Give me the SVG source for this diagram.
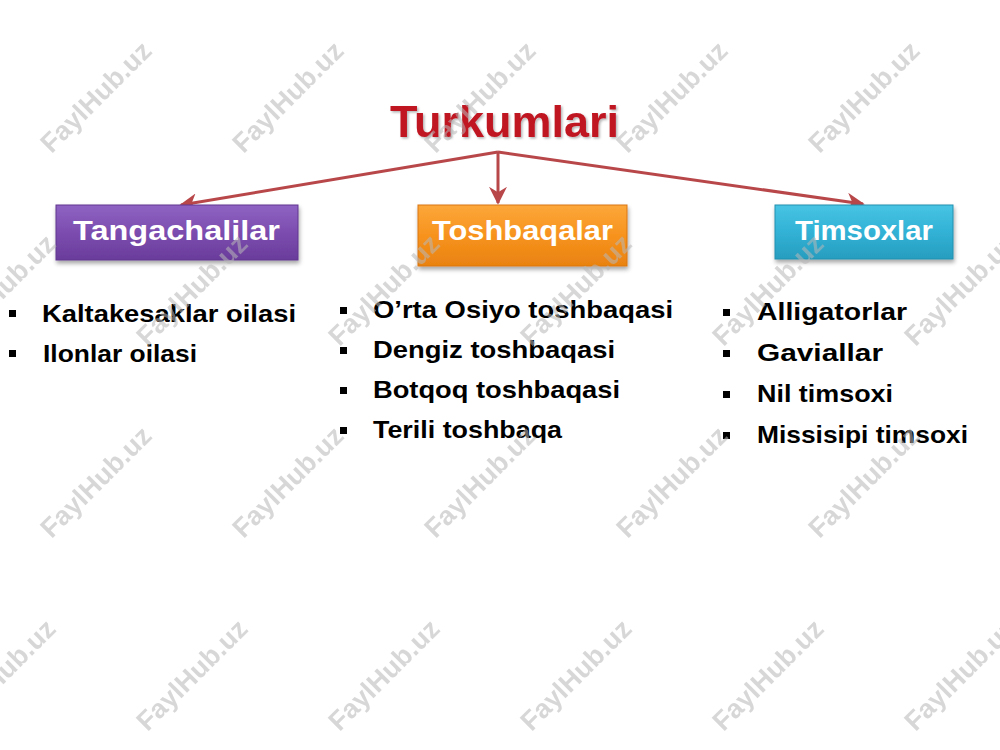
<svg xmlns="http://www.w3.org/2000/svg" width="1000" height="750" viewBox="0 0 1000 750">
  <defs>
    <linearGradient id="gPurple" x1="0" y1="0" x2="0" y2="1">
      <stop offset="0" stop-color="#8E63C2"/>
      <stop offset="0.5" stop-color="#7C4DAF"/>
      <stop offset="1" stop-color="#6A3C9B"/>
    </linearGradient>
    <linearGradient id="gOrange" x1="0" y1="0" x2="0" y2="1">
      <stop offset="0" stop-color="#FCA73A"/>
      <stop offset="0.5" stop-color="#F7931E"/>
      <stop offset="1" stop-color="#E98210"/>
    </linearGradient>
    <linearGradient id="gTeal" x1="0" y1="0" x2="0" y2="1">
      <stop offset="0" stop-color="#48C4E3"/>
      <stop offset="0.5" stop-color="#31B2D6"/>
      <stop offset="1" stop-color="#279DBF"/>
    </linearGradient>
    <filter id="shadow" x="-10%" y="-20%" width="120%" height="150%">
      <feDropShadow dx="1" dy="3" stdDeviation="2" flood-color="#000" flood-opacity="0.35"/>
    </filter>
    <filter id="tshadow" x="-5%" y="-20%" width="110%" height="150%">
      <feDropShadow dx="1.5" dy="1.5" stdDeviation="1" flood-color="#000" flood-opacity="0.3"/>
    </filter>
    <marker id="arrow" viewBox="0 0 10 10" refX="9" refY="5" markerWidth="6" markerHeight="6" orient="auto" markerUnits="strokeWidth">
      <path d="M0,0 L10,5 L0,10 L3,5 z" fill="#B8474A"/>
    </marker>
    <style>
      .title { font-family: "Liberation Sans", Arial, sans-serif; font-weight: bold; font-size: 44px; fill: #BF1522; }
      .boxtext { font-family: "Liberation Sans", Arial, sans-serif; font-weight: bold; font-size: 28px; fill: #FFFFFF; }
      .item { font-family: "Liberation Sans", Arial, sans-serif; font-weight: bold; font-size: 24px; fill: #000000; }
      .bullet { fill: #000000; }
      .conn { stroke: #B8474A; stroke-width: 3; fill: none; marker-end: url(#arrow); }
      .wm { font-family: "Liberation Sans", Arial, sans-serif; font-weight: bold; font-size: 27px; fill: #B8B8B8; opacity: 0.55; }
    </style>
  </defs>

  <rect x="0" y="0" width="1000" height="750" fill="#FFFFFF"/>

  <g id="title">
    <text class="title" x="390" y="137" textLength="229" lengthAdjust="spacingAndGlyphs" filter="url(#tshadow)">Turkumlari</text>
  </g>

  <g id="connectors">
    <line class="conn" x1="498" y1="152" x2="181" y2="205"/>
    <line class="conn" x1="498" y1="152" x2="498" y2="203"/>
    <line class="conn" x1="498" y1="152" x2="863" y2="204"/>
  </g>

  <g id="node-tangachalilar">
    <rect x="56" y="205" width="242" height="55" fill="url(#gPurple)" stroke="#603690" stroke-width="1" filter="url(#shadow)"/>
    <text class="boxtext" x="73" y="240" textLength="207" lengthAdjust="spacingAndGlyphs">Tangachalilar</text>
  </g>

  <g id="node-toshbaqalar">
    <rect x="418" y="205" width="209" height="61" fill="url(#gOrange)" stroke="#D97612" stroke-width="1" filter="url(#shadow)"/>
    <text class="boxtext" x="432" y="240" textLength="181" lengthAdjust="spacingAndGlyphs">Toshbaqalar</text>
  </g>

  <g id="node-timsoxlar">
    <rect x="775" y="205" width="178" height="54" fill="url(#gTeal)" stroke="#2390AF" stroke-width="1" filter="url(#shadow)"/>
    <text class="boxtext" x="795" y="240" textLength="138" lengthAdjust="spacingAndGlyphs">Timsoxlar</text>
  </g>

  <g id="list-tangachalilar">
    <rect class="bullet" x="9" y="310" width="7" height="7"/>
    <text class="item" x="42" y="322" textLength="254" lengthAdjust="spacingAndGlyphs">Kaltakesaklar oilasi</text>
    <rect class="bullet" x="9" y="350" width="7" height="7"/>
    <text class="item" x="43" y="362" textLength="154" lengthAdjust="spacingAndGlyphs">Ilonlar oilasi</text>
  </g>

  <g id="list-toshbaqalar">
    <rect class="bullet" x="340" y="307" width="7" height="7"/>
    <text class="item" x="373" y="318" textLength="300" lengthAdjust="spacingAndGlyphs">O’rta Osiyo toshbaqasi</text>
    <rect class="bullet" x="340" y="347" width="7" height="7"/>
    <text class="item" x="373" y="358" textLength="242" lengthAdjust="spacingAndGlyphs">Dengiz toshbaqasi</text>
    <rect class="bullet" x="340" y="387" width="7" height="7"/>
    <text class="item" x="373" y="398" textLength="247" lengthAdjust="spacingAndGlyphs">Botqoq toshbaqasi</text>
    <rect class="bullet" x="340" y="427" width="7" height="7"/>
    <text class="item" x="373" y="438" textLength="189" lengthAdjust="spacingAndGlyphs">Terili toshbaqa</text>
  </g>

  <g id="list-timsoxlar">
    <rect class="bullet" x="723" y="309" width="7" height="7"/>
    <text class="item" x="757" y="320" textLength="150" lengthAdjust="spacingAndGlyphs">Alligatorlar</text>
    <rect class="bullet" x="723" y="350" width="7" height="7"/>
    <text class="item" x="757" y="361" textLength="126" lengthAdjust="spacingAndGlyphs">Gaviallar</text>
    <rect class="bullet" x="723" y="391" width="7" height="7"/>
    <text class="item" x="757" y="402" textLength="136" lengthAdjust="spacingAndGlyphs">Nil timsoxi</text>
    <rect class="bullet" x="723" y="432" width="7" height="7"/>
    <text class="item" x="757" y="443" textLength="211" lengthAdjust="spacingAndGlyphs">Missisipi timsoxi</text>
  </g>

  <g id="watermarks" text-anchor="middle">
    <text class="wm" transform="translate(96,97) rotate(-45)" y="9">FaylHub.uz</text>
    <text class="wm" transform="translate(288,97) rotate(-45)" y="9">FaylHub.uz</text>
    <text class="wm" transform="translate(480,97) rotate(-45)" y="9">FaylHub.uz</text>
    <text class="wm" transform="translate(672,97) rotate(-45)" y="9">FaylHub.uz</text>
    <text class="wm" transform="translate(864,97) rotate(-45)" y="9">FaylHub.uz</text>

    <text class="wm" transform="translate(0,290) rotate(-45)" y="9">FaylHub.uz</text>
    <text class="wm" transform="translate(192,290) rotate(-45)" y="9">FaylHub.uz</text>
    <text class="wm" transform="translate(384,290) rotate(-45)" y="9">FaylHub.uz</text>
    <text class="wm" transform="translate(576,290) rotate(-45)" y="9">FaylHub.uz</text>
    <text class="wm" transform="translate(768,290) rotate(-45)" y="9">FaylHub.uz</text>
    <text class="wm" transform="translate(960,290) rotate(-45)" y="9">FaylHub.uz</text>

    <text class="wm" transform="translate(96,482) rotate(-45)" y="9">FaylHub.uz</text>
    <text class="wm" transform="translate(288,482) rotate(-45)" y="9">FaylHub.uz</text>
    <text class="wm" transform="translate(480,482) rotate(-45)" y="9">FaylHub.uz</text>
    <text class="wm" transform="translate(672,482) rotate(-45)" y="9">FaylHub.uz</text>
    <text class="wm" transform="translate(864,482) rotate(-45)" y="9">FaylHub.uz</text>

    <text class="wm" transform="translate(0,675) rotate(-45)" y="9">FaylHub.uz</text>
    <text class="wm" transform="translate(192,675) rotate(-45)" y="9">FaylHub.uz</text>
    <text class="wm" transform="translate(384,675) rotate(-45)" y="9">FaylHub.uz</text>
    <text class="wm" transform="translate(576,675) rotate(-45)" y="9">FaylHub.uz</text>
    <text class="wm" transform="translate(768,675) rotate(-45)" y="9">FaylHub.uz</text>
    <text class="wm" transform="translate(960,675) rotate(-45)" y="9">FaylHub.uz</text>
  </g>
</svg>
